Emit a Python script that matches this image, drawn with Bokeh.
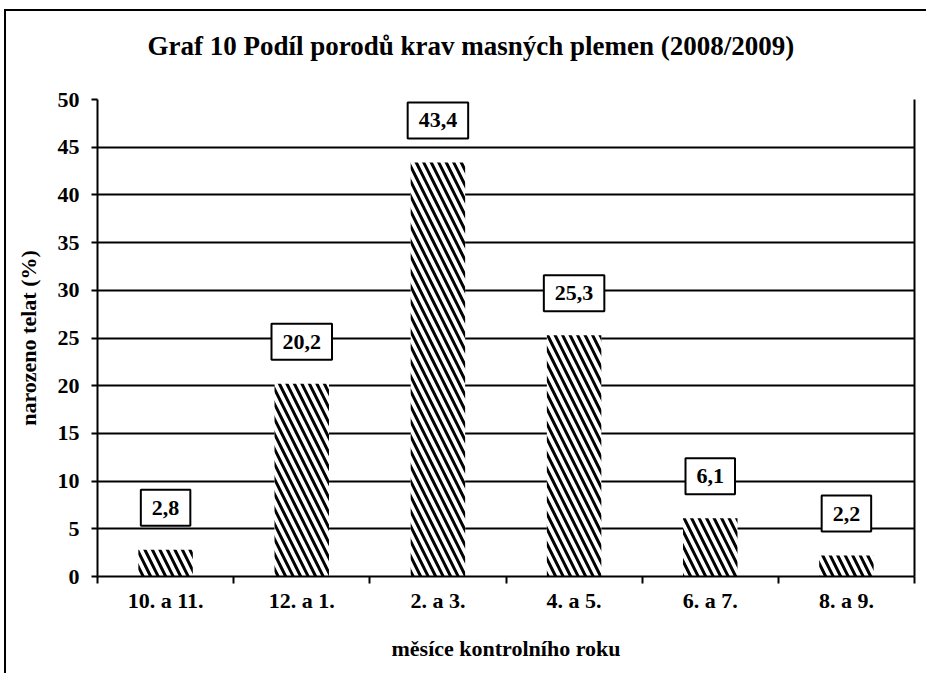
import numpy as np
from bokeh.plotting import figure
from bokeh.models import ColumnDataSource, FixedTicker, Range1d, LinearAxis, Label, Title
from bokeh.embed import file_html
from bokeh.resources import INLINE

title_text = "Graf 10 Podíl porodů krav masných plemen (2008/2009)"
categories = ["10. a 11.", "12. a 1.", "2. a 3.", "4. a 5.", "6. a 7.", "8. a 9."]
values = [2.8, 20.2, 43.4, 25.3, 6.1, 2.2]
value_labels = ["2,8", "20,2", "43,4", "25,3", "6,1", "2,2"]
y_ticks = [0, 5, 10, 15, 20, 25, 30, 35, 40, 45, 50]

FONT = "Liberation Serif"

x = np.arange(len(categories)) + 0.5
src = ColumnDataSource(dict(x=x, top=values))

p = figure(width=922, height=664, output_backend="svg", toolbar_location=None,
           x_range=Range1d(0, len(categories)), y_range=Range1d(0, 50),
           min_border_left=91, min_border_right=14, min_border_top=88, min_border_bottom=99)
p.styles = {"border-top": "2px solid black", "border-left": "2px solid black",
            "margin-left": "4px", "margin-top": "9px"}
p.outline_line_color = None
p.background_fill_color = "white"
p.border_fill_color = "white"

# spacer between plot area and title, then the title itself
p.add_layout(Title(text=" ", text_font_size="10px", standoff=26), "above")
p.add_layout(Title(text=title_text, text_font=FONT, text_font_size="27px",
                   text_font_style="bold", text_color="black", align="left",
                   offset=50, standoff=0), "above")

p.vbar(x="x", top="top", width=0.4, source=src, fill_color="white", line_color=None,
       hatch_pattern="\\", hatch_color="black", hatch_weight=3, hatch_scale=15)

# y axis
p.yaxis.ticker = FixedTicker(ticks=y_ticks)
p.yaxis.axis_label = "narozeno telat (%)"
p.yaxis.axis_label_text_font = FONT
p.yaxis.axis_label_text_font_style = "bold"
p.yaxis.axis_label_text_font_size = "22px"
p.yaxis.axis_label_standoff = 14
p.yaxis.major_label_text_font = FONT
p.yaxis.major_label_text_font_style = "bold"
p.yaxis.major_label_text_font_size = "22px"
p.yaxis.major_label_standoff = 12
p.yaxis.major_tick_out = 6
p.yaxis.major_tick_in = 0
p.yaxis.minor_tick_line_color = None
p.yaxis.axis_line_width = 2
p.yaxis.major_tick_line_width = 2
p.yaxis.axis_line_color = "black"
p.yaxis.major_tick_line_color = "black"
p.yaxis.major_label_text_color = "black"
p.yaxis.axis_label_text_color = "black"

# x axis
p.xaxis.ticker = FixedTicker(ticks=list(x), minor_ticks=list(range(len(categories) + 1)))
p.xaxis.major_label_overrides = {float(xi): c for xi, c in zip(x, categories)}
p.xaxis.axis_label = "měsíce kontrolního roku"
p.xaxis.axis_label_text_font = FONT
p.xaxis.axis_label_text_font_style = "bold"
p.xaxis.axis_label_text_font_size = "22px"
p.xaxis.axis_label_standoff = 20
p.xaxis.major_label_text_font = FONT
p.xaxis.major_label_text_font_style = "bold"
p.xaxis.major_label_text_font_size = "22px"
p.xaxis.major_label_standoff = 4
p.xaxis.major_tick_line_color = None
p.xaxis.minor_tick_out = 7
p.xaxis.minor_tick_in = 0
p.xaxis.minor_tick_line_width = 2
p.xaxis.minor_tick_line_color = "black"
p.xaxis.axis_line_width = 2
p.xaxis.axis_line_color = "black"
p.xaxis.major_label_text_color = "black"
p.xaxis.axis_label_text_color = "black"

# right frame line
ra = LinearAxis(ticker=FixedTicker(ticks=[]), axis_line_width=2, axis_line_color="black",
                major_label_text_font_size="0px")
p.add_layout(ra, "right")

p.xgrid.grid_line_color = None
p.ygrid.grid_line_color = "black"
p.ygrid.grid_line_width = 2
p.ygrid.grid_line_alpha = 1

for xi, v, t in zip(x, values, value_labels):
    p.add_layout(Label(x=xi, y=v, text=t, y_offset=42, text_align="center", text_baseline="middle",
                       text_font=FONT, text_font_style="bold", text_font_size="22px",
                       text_color="black", background_fill_color="white",
                       border_line_color="black", border_line_width=2, padding=(11, 11)))

open("out.html", "w").write(file_html(p, INLINE))
